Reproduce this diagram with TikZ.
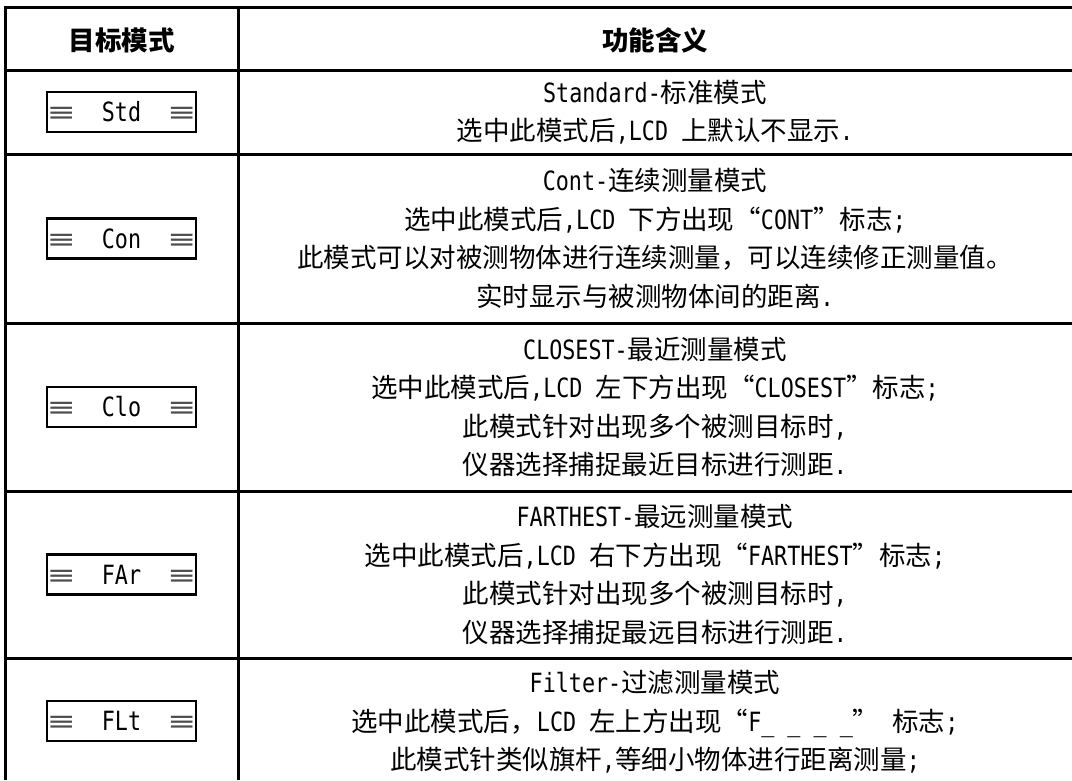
\documentclass[tikz,border=0pt]{standalone}
\usepackage{fontspec}
\setmainfont{Noto Sans CJK SC}
\newfontfamily\latfont{DejaVu Sans Mono}[FakeStretch=0.82]
\newfontfamily\symfont{DejaVu Sans}[FakeStretch=1.3]
\usepackage{xcolor}
\usepackage{tikz}
\newcommand\lat[1]{{\latfont #1}}
\newcommand\modetag[1]{{\symfont\color{black!70}≡}\ \ #1\ \ {\symfont\color{black!70}≡}}
\tikzset{
    grid_line/.style = {line width=3pt, black},
    mode_box/.style = {draw=black, line width=2.5pt, inner sep=0pt,
        minimum width=125pt, minimum height=40pt,
        font=\fontsize{26.5}{30}\selectfont\latfont},
    info_text/.style = {align=center, inner sep=0pt,
        font=\fontsize{26.5}{38.5}\selectfont},
    head_text/.style = {inner sep=0pt, font=\fontsize{26.5}{30}\selectfont\bfseries},
}

\begin{document}
\begin{tikzpicture}[x=1pt, y=-1pt]
        \useasboundingbox (0,0) rectangle (1072,780);
        % table lines
        \draw[grid_line] (1072,7) -- (5,7) -- (5,780);
        \draw[grid_line] (238,7) -- (238,780);
        \foreach \y in {70,154,323,491,658}
            \draw[grid_line] (5,\y) -- (1072,\y);
        % header
        \node [head_text] (mode_head) at (121.5,40) {目标模式};
        \node [head_text] (info_head) at (655,40) {功能含义};
        % Std
        \node [mode_box] (std) at (121.5,112) {\modetag{Std}};
        \node [info_text] (std_info) at (655,112) {\lat{Standard-}标准模式\\
            选中此模式后\lat{,LCD }上默认不显示\lat{.}};
        % Con
        \node [mode_box] (con) at (121.5,238.5) {\modetag{Con}};
        \node [info_text] (con_info) at (655,238.5) {\lat{Cont-}连续测量模式\\
            选中此模式后\lat{,LCD }下方出现“\lat{CONT}”标志\lat{;}\\
            此模式可以对被测物体进行连续测量，可以连续修正测量值。\\
            实时显示与被测物体间的距离\lat{.}};
        % Clo
        \node [mode_box] (clo) at (121.5,407) {\modetag{Clo}};
        \node [info_text] (clo_info) at (655,407) {\lat{CLOSEST-}最近测量模式\\
            选中此模式后\lat{,LCD }左下方出现“\lat{CLOSEST}”标志\lat{;}\\
            此模式针对出现多个被测目标时\lat{,}\\
            仪器选择捕捉最近目标进行测距\lat{.}};
        % FAr
        \node [mode_box] (far) at (121.5,574.5) {\modetag{FAr}};
        \node [info_text] (far_info) at (655,574.5) {\lat{FARTHEST-}最远测量模式\\
            选中此模式后\lat{,LCD }右下方出现“\lat{FARTHEST}”标志\lat{;}\\
            此模式针对出现多个被测目标时\lat{,}\\
            仪器选择捕捉最远目标进行测距\lat{.}};
        % FLt
        \node [mode_box] (flt) at (121.5,721) {\modetag{FLt}};
        \node [info_text] (flt_info) at (655,722) {\lat{Filter-}过滤测量模式\\
            选中此模式后，\lat{LCD }左上方出现“\lat{F\_ \_ \_ \_}”\lat{ }标志\lat{;}\\
            此模式针类似旗杆\lat{,}等细小物体进行距离测量\lat{;}};
\end{tikzpicture}
\end{document}
